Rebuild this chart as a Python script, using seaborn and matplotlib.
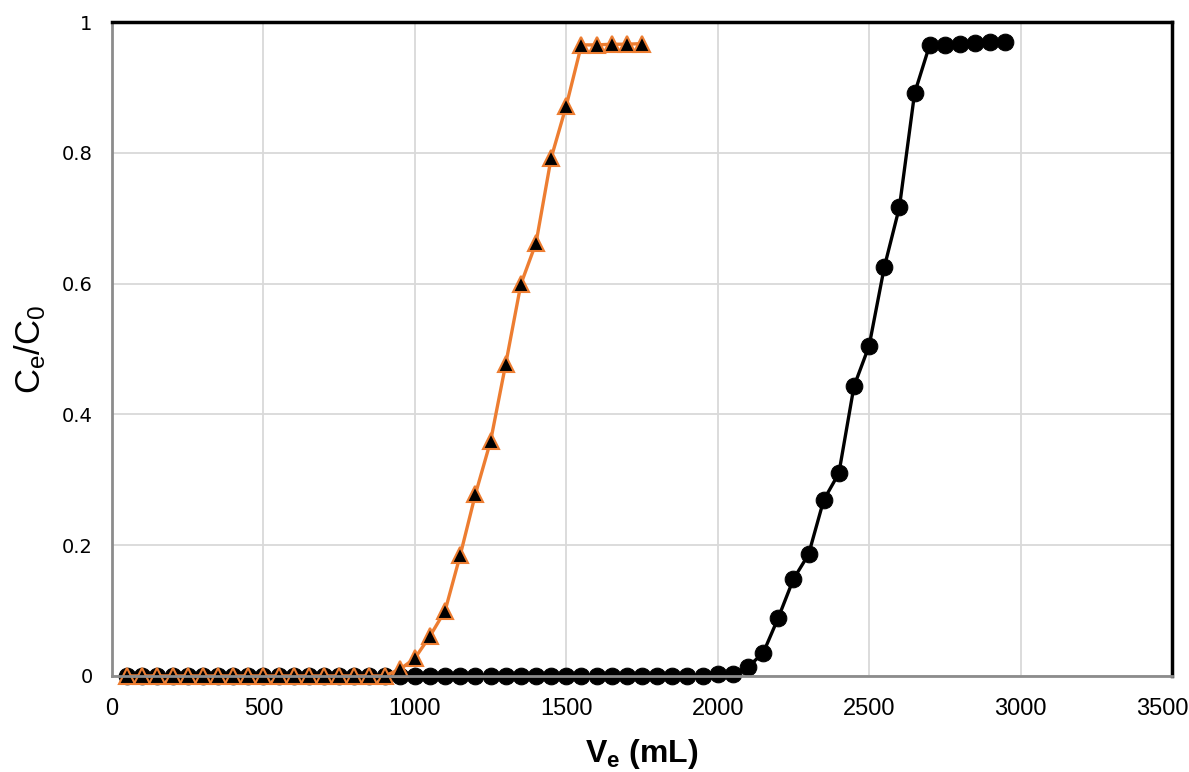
import numpy as np
import pandas as pd
import matplotlib
matplotlib.use('Agg')
import matplotlib.pyplot as plt
import matplotlib.transforms as mtrans
import seaborn as sns

# ── data ────────────────────────────────────────────────────────
vol_tri = list(range(50, 1800, 50))
ce_tri = [0.0] * 18 + [0.010, 0.027, 0.061, 0.100, 0.185, 0.278, 0.359, 0.477,
                       0.599, 0.662, 0.792, 0.872, 0.965, 0.965, 0.966, 0.966, 0.967]

vol_circ = list(range(50, 3000, 50))
ce_circ = [0.0] * 39 + [0.003, 0.003, 0.014, 0.035, 0.089, 0.148, 0.186, 0.269,
                        0.310, 0.443, 0.505, 0.625, 0.717, 0.891, 0.965, 0.965,
                        0.966, 0.968, 0.969, 0.969]

x_ticks = [0, 500, 1000, 1500, 2000, 2500, 3000, 3500]
y_ticks = [0, 0.2, 0.4, 0.6, 0.8, 1.0]
y_labels = ['0', '0.2', '0.4', '0.6', '0.8', '1']

df_tri = pd.DataFrame({'V': vol_tri, 'C': ce_tri})
df_circ = pd.DataFrame({'V': vol_circ, 'C': ce_circ})

sns.set_style('white')
plt.rcParams['font.family'] = ['DejaVu Sans']
plt.rcParams['mathtext.fontset'] = 'custom'
plt.rcParams['mathtext.bf'] = 'Liberation Sans:bold'
plt.rcParams['mathtext.rm'] = 'Liberation Sans'
plt.rcParams['mathtext.it'] = 'Liberation Sans:italic'

fig = plt.figure(figsize=(11.89, 7.72), dpi=100)
ax = fig.add_axes([0.0942, 0.1244, 0.8915, 0.8471])

# black circles first, triangles on top
sns.lineplot(data=df_circ, x='V', y='C', ax=ax, sort=False, color='black',
             linewidth=2.4, marker='o', markersize=12, markeredgecolor='black',
             markerfacecolor='black', zorder=3)
sns.lineplot(data=df_tri, x='V', y='C', ax=ax, sort=False, color='#ed7d31',
             linewidth=2.4, marker='^', markersize=12, markeredgecolor='#ed7d31',
             markeredgewidth=1.5, markerfacecolor='black', zorder=4)

ax.set_xlim(0, 3500)
ax.set_ylim(0, 1)
ax.set_xticks(x_ticks)
ax.set_xticklabels([str(t) for t in x_ticks],
                   family=['Liberation Sans', 'DejaVu Sans'], fontsize=17)
ax.set_yticks(y_ticks)
ax.set_yticklabels(y_labels, fontsize=14)
ax.tick_params(axis='y', length=0, pad=14, labelcolor='black')
ax.tick_params(axis='x', length=0, pad=16, labelcolor='black')

# last x label sits a little inside the figure edge
last = ax.get_xticklabels()[-1]
last.set_transform(last.get_transform() +
                   mtrans.ScaledTranslation(-0.1, 0, fig.dpi_scale_trans))

ax.grid(True, color='#d9d9d9', linewidth=1.3)
ax.set_axisbelow(True)
for side in ['left', 'bottom']:
    ax.spines[side].set_color('#8c8c8c')
    ax.spines[side].set_linewidth(2)
for side in ['top', 'right']:
    ax.spines[side].set_color('black')
    ax.spines[side].set_linewidth(2.5)
for sp in ax.spines.values():
    sp.set_zorder(5)
    sp.set_clip_on(False)
for ln in ax.lines:
    ln.set_clip_on(False)

ax.set_xlabel(r'$\mathbf{V_e}$ (mL)', fontsize=23, fontweight='bold', color='black',
              family=['Liberation Sans', 'DejaVu Sans'], labelpad=12)
ax.set_ylabel(r'$\mathregular{C_e/C_0}$', fontsize=25, labelpad=10, color='black',
              family=['Liberation Sans', 'DejaVu Sans'])

fig.savefig('out.png', dpi=100)
